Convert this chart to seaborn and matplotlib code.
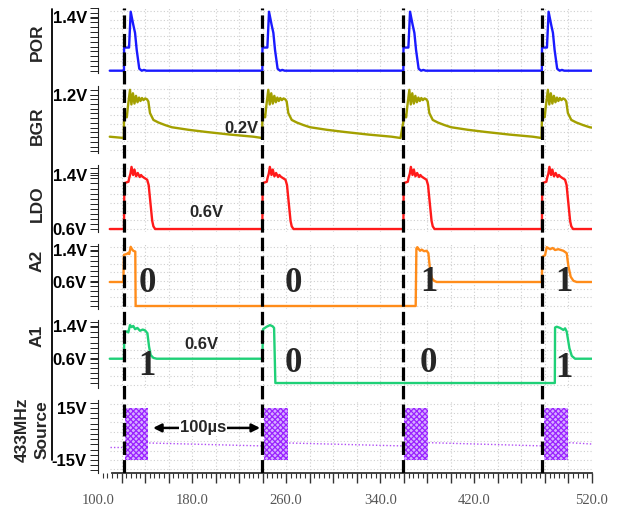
import numpy as np
import pandas as pd
import matplotlib
matplotlib.use("Agg")
import matplotlib.pyplot as plt
import seaborn as sns
from matplotlib.ticker import MultipleLocator
from matplotlib.lines import Line2D

# ---------------- data (time in µs, voltage in V) ----------------
pulse_t = [122.1, 239.7, 359.6, 477.4]          # sync marks (dashed lines)
t_first, t_last = 110.0, 520.0

# POR: repeating pulse shape (relative time, V)
por_rel = [0.0, 0.1, 4.3, 5.7, 7.9, 9.4, 10.8, 13.0, 15.1, 17.0, 19.0]
por_v   = [0.0, 0.60, 0.60, 1.53, 1.19, 0.98, 0.54, 0.05, 0.0, 0.02, 0.0]
por_idle = 0.0

# BGR: repeating shape with slow decay to 0.2 V
bgr_rel = [0.0, 1.2, 2.4, 3.2, 5.1, 6.3, 7.6, 8.9, 10.2, 11.5, 12.8, 14.0, 15.3,
           16.6, 18.0, 19.5, 20.7, 22.1, 25.0, 29.3, 35.0, 40.6, 55.0, 70.0,
           90.0, 110.0, 117.5]
bgr_v   = [0.58, 0.74, 0.68, 0.90, 1.32, 0.98, 1.24, 1.00, 1.18, 1.03, 1.14, 1.06, 1.13,
           1.08, 1.12, 1.10, 1.05, 0.78, 0.62, 0.56, 0.50, 0.45, 0.39, 0.34,
           0.28, 0.23, 0.20]
bgr_pre_t = [110.0, 122.0]
bgr_pre_v = [0.23, 0.20]

# LDO: repeating shape, idle at 0.6 V
ldo_rel = [0.0, 0.3, 3.8, 4.5, 5.5, 6.4, 7.8, 8.9, 10.3, 11.7, 13.4, 14.5, 15.4,
           17.0, 19.7, 21.0, 22.0, 24.0, 25.0, 26.5]
ldo_v   = [0.60, 1.28, 1.30, 1.36, 1.42, 1.52, 1.40, 1.48, 1.38, 1.43, 1.37, 1.40, 1.38,
           1.36, 1.33, 1.25, 1.07, 0.72, 0.64, 0.60]
ldo_idle = 0.6

# A2 (bits 0 0 1 1)
a2_t = [110.0, 121.5, 122.1, 124.4, 125.8, 126.6, 127.8, 128.9, 130.0, 131.7, 132.0,
        370.1, 370.7, 371.5, 373.8, 375.2, 377.2, 379.5, 380.9, 382.3, 383.7, 385.7, 388.0,
        477.3, 477.8, 480.1, 481.5, 484.4, 486.6, 488.6, 491.4, 495.7, 498.5, 499.9,
        501.9, 504.2, 507.0, 520.0]
a2_v = [0.60, 0.60, 1.28, 1.30, 1.33, 1.30, 1.48, 1.42, 1.38, 1.36, 0.0,
        0.0, 1.44, 1.47, 1.38, 1.41, 1.37, 1.38, 1.32, 0.90, 0.70, 0.63, 0.60,
        0.60, 1.23, 1.27, 1.47, 1.42, 1.45, 1.40, 1.42, 1.38, 1.32, 1.00,
        0.73, 0.63, 0.60, 0.60]

# A1 (bits 1 0 0 1)
a1_t = [110.0, 122.1, 122.4, 124.4, 125.8, 127.2, 128.6, 130.0, 131.5, 133.5, 135.7,
        138.0, 140.0, 142.0, 143.4, 144.8, 147.1, 149.9,
        239.7, 240.3, 243.4, 246.2, 248.5, 249.7, 250.8,
        488.4, 488.6, 490.0, 492.9, 495.7, 497.1, 498.5, 500.8, 502.8, 505.6, 520.0]
a1_v = [0.60, 0.60, 1.27, 1.27, 1.25, 1.43, 1.38, 1.41, 1.33, 1.36, 1.29,
        1.32, 1.30, 1.23, 0.90, 0.69, 0.62, 0.60,
        0.60, 1.33, 1.39, 1.43, 1.40, 1.36, 0.0,
        0.0, 1.37, 1.39, 1.36, 1.31, 1.35, 1.27, 0.86, 0.67, 0.60, 0.60]

# 433 MHz source: RF bursts (+/-15 V) and idle level
burst_start = [123.0, 241.2, 360.2, 479.5]
burst_end   = [142.8, 261.8, 380.4, 499.9]
burst_amp   = 15.0
idle_t = [[110.0, 122.5], [143.5, 240.5], [262.5, 359.5], [381.0, 479.0], [500.5, 520.0]]
idle_v = [[-7.5, -7.5], [-5.2, -6.9], [-5.2, -6.9], [-5.0, -6.9], [-5.0, -5.8]]

a2_bits = ["0", "0", "1", "1"]
a1_bits = ["1", "0", "0", "1"]
bit_t   = [141.7, 265.8, 380.9, 495.7]
a2_bit_v = [0.575, 0.575, 0.59, 0.59]
a1_bit_v = [0.40, 0.47, 0.47, 0.36]

xtick_labels = [100, 180, 260, 340, 420, 520]

# ---------------- build traces ----------------
def repeat_shape(rel, val, idle, pre=None):
    ts, vs = [], []
    if pre is not None:
        ts += list(pre[0]); vs += list(pre[1])
    else:
        ts.append(t_first); vs.append(idle)
    for t0 in pulse_t:
        ts += [t0 + r for r in rel]; vs += list(val)
    if idle is not None:
        ts.append(t_last); vs.append(idle)
    return pd.DataFrame({"t": ts, "v": vs, "seg": 0})

df_por = repeat_shape(por_rel, por_v, por_idle)
df_bgr = repeat_shape(bgr_rel, bgr_v, None, pre=(bgr_pre_t, bgr_pre_v))
df_ldo = repeat_shape(ldo_rel, ldo_v, ldo_idle)
df_a2 = pd.DataFrame({"t": a2_t, "v": a2_v, "seg": 0})
df_a1 = pd.DataFrame({"t": a1_t, "v": a1_v, "seg": 0})
df_idle = pd.DataFrame({
    "t": [t for seg in idle_t for t in seg],
    "v": [v for seg in idle_v for v in seg],
    "seg": [i for i, seg in enumerate(idle_t) for _ in seg]})

# ---------------- figure ----------------
sns.set_theme(style="white")
plt.rcParams["font.family"] = ["Liberation Sans", "DejaVu Sans"]
plt.rcParams["hatch.linewidth"] = 0.9

W, H = 618, 508
fig = plt.figure(figsize=(W / 100, H / 100), dpi=100)
L, R = 98, 592

def add_ax(top, bot):
    return fig.add_axes([L / W, 1 - bot / H, (R - L) / W, (bot - top) / H])

specs = [
    # name, top, bottom, ylim, ticks, labels, minor step, df, color
    ("POR", 8, 73, (-0.06, 1.626), [1.4], ["1.4V"], 0.125, df_por, "#1a1aff"),
    ("BGR", 86, 153, (-0.149, 1.409), [1.2], ["1.2V"], 0.11, df_bgr, "#a3a000"),
    ("LDO", 165, 232, (0.556, 1.548), [0.6, 1.4], ["0.6V", "1.4V"], 0.075, df_ldo, "#ff1a1a"),
    ("A2", 244, 309, (-0.075, 1.55), [0.6, 1.4], ["0.6V", "1.4V"], 0.125, df_a2, "#ff8c1a"),
    ("A1", 320, 388, (-0.123, 1.556), [0.6, 1.4], ["0.6V", "1.4V"], 0.125, df_a1, "#1fd077"),
    ("SRC", 400, 473, (-22.5, 19.6), [-15, 15], ["-15V", "15V"], 3.0, df_idle, "#a020f0"),
]

grid_c = "#cfcfcf"
axes = {}
for name, top, bot, ylim, ticks, labels, mstep, df, col in specs:
    ax = add_ax(top, bot)
    axes[name] = ax
    ax.set_xlim(100, 520)
    ax.set_ylim(*ylim)
    lo, hi = ylim
    # dotted grid
    ax.vlines(np.arange(120, 521, 20), lo, hi, colors=grid_c,
              linestyles=(0, (1, 2)), lw=0.8, zorder=0)
    ax.hlines([lo + f * (hi - lo) for f in np.linspace(0.05, 0.95, 8)], 110, 520,
              colors=grid_c, linestyles=(0, (1, 2)), lw=0.8, zorder=0)
    if name == "SRC":
        for s, e in zip(burst_start, burst_end):
            ax.fill_between([s, e], -burst_amp, burst_amp, facecolor="#d6b0ff",
                            edgecolor="#9a22ff", hatch="xxxxxx", lw=0, zorder=2)
        sns.lineplot(data=df, x="t", y="v", units="seg", estimator=None, sort=False,
                     color="#b04cf5", lw=1.0, ls=(0, (1, 1.5)), ax=ax, legend=False)
    else:
        sns.lineplot(data=df, x="t", y="v", units="seg", estimator=None, sort=False,
                     color=col, lw=1.7, ax=ax, legend=False)
    ax.set_xlabel("")
    ax.set_ylabel("")
    for s in ["top", "right", "bottom"]:
        ax.spines[s].set_visible(False)
    ax.spines["left"].set_linewidth(0.8)
    ax.spines["left"].set_color("#222222")
    ax.set_yticks(ticks, labels)
    ax.yaxis.set_minor_locator(MultipleLocator(mstep))
    ax.tick_params(axis="y", which="both", length=6, width=0.7, direction="out",
                   pad=2, labelsize=12, colors="#222222", labelcolor="black", left=True)
    for lab in ax.get_yticklabels():
        lab.set_fontweight("bold")
    ax.patch.set_alpha(0)
    if name != "SRC":
        ax.tick_params(axis="x", which="both", length=0, labelbottom=False, bottom=False)

# bottom ruler
axs = axes["SRC"]
axs.spines["bottom"].set_visible(True)
axs.spines["bottom"].set_bounds(112, 520)
axs.spines["bottom"].set_linewidth(1.3)
axs.spines["bottom"].set_color("#333333")
major = list(range(100, 521, 20))
axs.set_xticks(major, [f"{m:.1f}" if m in xtick_labels else "" for m in major])
axs.xaxis.set_minor_locator(MultipleLocator(4))
axs.tick_params(axis="x", which="major", length=7, width=1.0, direction="out",
                bottom=True, color="#333333", pad=8, labelsize=10.5, labelcolor="#555555")
axs.tick_params(axis="x", which="minor", length=3.5, width=0.8, direction="out",
                bottom=True, color="#333333")
for lab in axs.get_xticklabels():
    lab.set_fontfamily("Liberation Serif")
axs.xaxis.get_major_ticks()[0].tick1line.set_visible(False)

# annotations
axes["BGR"].text(222.2, 0.43, "0.2V", ha="center", va="center", fontsize=12, fontweight="bold")
axes["LDO"].text(191.8, 0.84, "0.6V", ha="center", va="center", fontsize=12, fontweight="bold")
axes["A1"].text(188.2, 0.94, "0.6V", ha="center", va="center", fontsize=12, fontweight="bold")
for b, t, v in zip(a2_bits, bit_t, a2_bit_v):
    axes["A2"].text(t, v, b, ha="center", va="center", fontsize=25, fontweight="bold",
                    family="Liberation Serif", zorder=5)
for b, t, v in zip(a1_bits, bit_t, a1_bit_v):
    axes["A1"].text(t, v, b, ha="center", va="center", fontsize=25, fontweight="bold",
                    family="Liberation Serif", zorder=5)
axs.annotate("", xy=(146.8, 3.5), xytext=(237.8, 3.5),
             arrowprops=dict(arrowstyle="<|-|>", color="black", lw=1.8, mutation_scale=12,
                             shrinkA=0, shrinkB=0), zorder=4)
axs.text(189.3, 3.5, "100µs", ha="center", va="center", fontsize=12, fontweight="bold",
         bbox=dict(facecolor="white", edgecolor="none", pad=0.5), zorder=5)

# dashed sync lines across all panels
ov = fig.add_axes([L / W, 1 - 473 / H, (R - L) / W, (473 - 8) / H])
ov.set_xlim(100, 520)
ov.set_ylim(0, 1)
ov.axis("off")
for t in pulse_t:
    ov.axvline(t, color="black", lw=2.3, ls=(0, (4.2, 1.6)))

# row labels and separator
row_lab = [("POR", 42), ("BGR", 126), ("LDO", 204), ("A2", 261), ("A1", 336)]
for txt, yc in row_lab:
    fig.text(37 / W, 1 - yc / H, txt, rotation=90, ha="center", va="center",
             fontsize=12.5, fontweight="bold")
fig.text(22 / W, 1 - 430 / H, "433MHz", rotation=90, ha="center", va="center",
         fontsize=12.5, fontweight="bold")
fig.text(42 / W, 1 - 430 / H, "Source", rotation=90, ha="center", va="center",
         fontsize=12.5, fontweight="bold")
fig.add_artist(Line2D([52 / W, 52 / W], [1 - 9 / H, 1 - 460 / H], color="black", lw=1.3))

fig.savefig("out.png", dpi=100, facecolor="white")
